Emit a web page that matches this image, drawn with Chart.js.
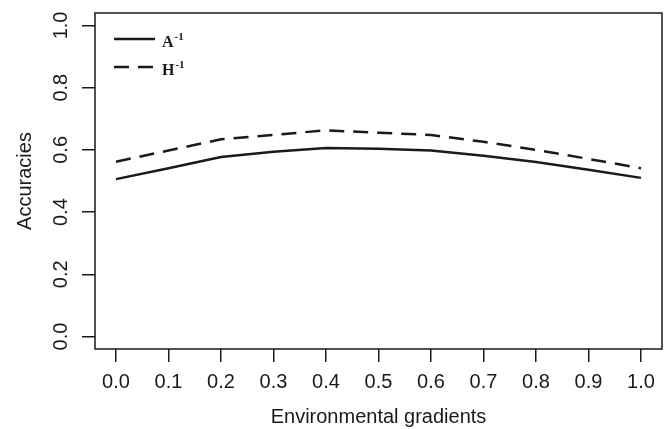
<!DOCTYPE html>
<html>
<head>
<meta charset="utf-8">
<script src="https://cdn.jsdelivr.net/npm/chart.js@4/dist/chart.umd.min.js"></script>
<style>
  html, body { margin: 0; padding: 0; background: #fff; }
  #wrap { width: 665px; height: 429px; position: relative; }
</style>
</head>
<body>
<div id="wrap"><canvas id="accChart"></canvas></div>
<script>
// values
const gradients = [0.0, 0.1, 0.2, 0.3, 0.4, 0.5, 0.6, 0.7, 0.8, 0.9, 1.0];
const accA = [0.506, 0.541, 0.577, 0.594, 0.606, 0.604, 0.598, 0.581, 0.561, 0.536, 0.510];
const accH = [0.562, 0.598, 0.634, 0.648, 0.663, 0.655, 0.648, 0.626, 0.600, 0.571, 0.541];
const seriesNames = ['A', 'H'];
const superscript = '-1';
const yTickValues = [0.0, 0.2, 0.4, 0.6, 0.8, 1.0];
const xTickValues = gradients;

const ink = '#1a1a1a';
const sansFont = "'Liberation Sans', Arial, sans-serif";

function toPoints(xs, ys) {
  return xs.map((x, i) => ({ x: x, y: ys[i] }));
}

// R-style box, rotated y labels and the legend
const rStyle = {
  id: 'rStyle',
  afterDraw(chart) {
    const ctx = chart.ctx;
    const a = chart.chartArea;
    ctx.save();
    ctx.strokeStyle = ink;
    ctx.lineWidth = 1.5;
    ctx.strokeRect(a.left, a.top, a.right - a.left, a.bottom - a.top);

    // y tick labels, turned like R does
    const ys = chart.scales.y;
    ctx.fillStyle = ink;
    ctx.font = '20px ' + sansFont;
    ctx.textAlign = 'center';
    ctx.textBaseline = 'middle';
    yTickValues.forEach(v => {
      const py = ys.getPixelForValue(v);
      ctx.save();
      ctx.translate(61, py);
      ctx.rotate(-Math.PI / 2);
      ctx.fillText(v.toFixed(1), 0, 0);
      ctx.restore();
    });

    // legend
    const rows = [39, 67];
    chart.data.datasets.forEach((ds, i) => {
      const y = rows[i];
      ctx.strokeStyle = ink;
      ctx.lineWidth = 2.5;
      ctx.setLineDash(ds.borderDash || []);
      ctx.beginPath();
      ctx.moveTo(114, y);
      ctx.lineTo(155, y);
      ctx.stroke();
      ctx.setLineDash([]);
      ctx.textAlign = 'left';
      ctx.textBaseline = 'alphabetic';
      ctx.font = "bold 16px 'Liberation Serif', 'Times New Roman', serif";
      ctx.fillText(seriesNames[i], 162, y + 8);
      const w = ctx.measureText(seriesNames[i]).width;
      ctx.font = "bold 11px 'Liberation Serif', 'Times New Roman', serif";
      ctx.fillText(superscript, 162 + w + 1, y + 1);
    });
    ctx.restore();
  }
};

new Chart(document.getElementById('accChart'), {
  type: 'line',
  data: {
    datasets: [
      {
        label: seriesNames[0] + superscript,
        data: toPoints(gradients, accA),
        borderColor: ink,
        borderWidth: 2.5,
        pointRadius: 0,
        tension: 0,
        fill: false
      },
      {
        label: seriesNames[1] + superscript,
        data: toPoints(gradients, accH),
        borderColor: ink,
        borderWidth: 2.5,
        borderDash: [15, 9],
        pointRadius: 0,
        tension: 0,
        fill: false
      }
    ]
  },
  options: {
    responsive: true,
    maintainAspectRatio: false,
    animation: false,
    devicePixelRatio: 1,
    layout: { padding: { left: 0, right: 3, top: 13, bottom: 0 } },
    plugins: {
      legend: { display: false },
      tooltip: { enabled: false }
    },
    scales: {
      x: {
        type: 'linear',
        min: -0.04,
        max: 1.04,
        afterBuildTicks: s => { s.ticks = xTickValues.map(v => ({ value: v })); },
        afterFit: s => { s.height = 80; },
        grid: { drawOnChartArea: false, drawTicks: true, tickLength: 13, color: ink, lineWidth: 1.5 },
        border: { display: false },
        ticks: {
          color: ink,
          font: { family: sansFont, size: 20 },
          padding: 8,
          maxRotation: 0,
          callback: v => Number(v).toFixed(1)
        },
        title: {
          display: true,
          text: 'Environmental gradients',
          color: ink,
          font: { family: sansFont, size: 20 },
          padding: { top: 4, bottom: 0 }
        }
      },
      y: {
        type: 'linear',
        min: -0.04,
        max: 1.04,
        afterBuildTicks: s => { s.ticks = yTickValues.map(v => ({ value: v })); },
        afterFit: s => { s.width = 95; },
        grid: { drawOnChartArea: false, drawTicks: true, tickLength: 13, color: ink, lineWidth: 1.5 },
        border: { display: false },
        ticks: { display: false },
        title: {
          display: true,
          text: 'Accuracies',
          color: ink,
          font: { family: sansFont, size: 20 },
          padding: { top: 13, bottom: 0 }
        }
      }
    }
  },
  plugins: [rStyle]
});
</script>
</body>
</html>
